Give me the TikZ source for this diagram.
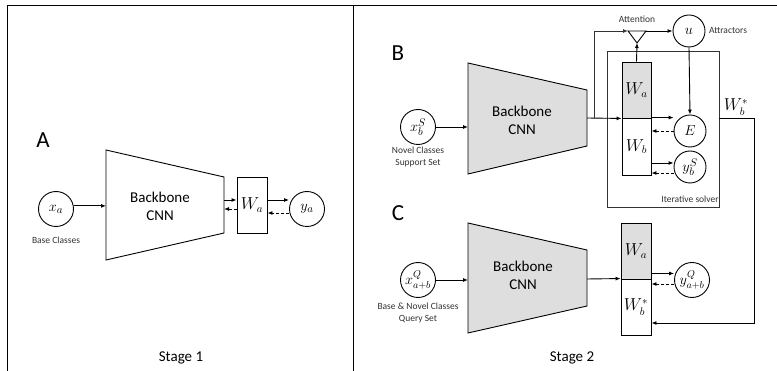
\documentclass[tikz,border=0pt]{standalone}
\usepackage{fontspec}
\setmainfont{Carlito}
\usetikzlibrary{arrows.meta,calc}
\begin{document}
\begin{tikzpicture}[x=1pt,y=-1pt,
 circ/.style={circle,draw,line width=0.9pt,minimum size=35pt,inner sep=0pt,font=\fontsize{15}{15}\selectfont},
 scirc/.style={circ,minimum size=32pt},
 wbox/.style={draw,line width=0.9pt,minimum width=30pt,minimum height=56pt,inner sep=0pt,font=\fontsize{16}{16}\selectfont},
 gbox/.style={wbox,fill=black!13},
 trap/.style={draw,line width=0.9pt},
 big/.style={font=\fontsize{23}{23}\selectfont},
 mid/.style={font=\fontsize{15}{18}\selectfont,align=center},
 lab/.style={font=\fontsize{9.5}{12.5}\selectfont,align=center,text=black!80},
 arr/.style={line width=0.9pt,-{Latex[length=5pt,width=4pt]}},
 darr/.style={arr,dash pattern=on 3pt off 2pt},
 thin/.style={line width=0.8pt,draw=black!80}]
\useasboundingbox (0,0) rectangle (777,371);
% frame
\draw[line width=1pt] (7,371) -- (7,6) -- (777,6);
\draw[line width=1pt] (353,6) -- (353,371);

% ---------------- Panel A
\node[big] (lA) at (43,140) {A};
\node[circ] (xa) at (56,209) {$x_a$};
\node[lab] (lxa) at (56,240) {Base Classes};
\coordinate (tA1) at (106,150);
\coordinate (tA2) at (224,177);
\coordinate (tA3) at (224,233);
\coordinate (tA4) at (106,260);
\draw[trap] (tA1) -- (tA2) -- (tA3) -- (tA4) -- cycle;
\node[mid] (cnnA) at (160,206) {Backbone\\CNN};
\node[wbox] (wA) at (252,205) {$W_a$};
\node[circ] (ya) at (307,209) {$y_a$};
\draw[arr] (xa.10) -- (xa.10 -| tA1);
\coordinate (tAr) at (224,205);
\coordinate (aS1) at ([yshift=5pt]tAr);
\coordinate (aD1) at ([yshift=-4pt]wA.west);
\draw[arr] (aS1) -- (aS1 -| wA.west);
\draw[darr] (aD1) -- (aD1 -| tAr);
\coordinate (aS2) at ([yshift=5pt]wA.east);
\coordinate (aD2) at ([yshift=-4pt]ya.west);
\draw[arr] (aS2) -- (aS2 -| ya.west);
\draw[darr] (aD2) -- (aD2 -| wA.east);
\node[mid] (s1) at (181,358) {Stage 1};

% ---------------- Panel B
\node[big] (lB) at (398,53) {B};
\node[circ] (xbs) at (418,127) {$x_b^S$};
\node[lab] (lxb) at (418,157) {Novel Classes\\Support Set};
\coordinate (tB1) at (468,63);
\coordinate (tB2) at (587,90);
\coordinate (tB3) at (587,146);
\coordinate (tB4) at (468,174);
\draw[trap,fill=black!13] (tB1) -- (tB2) -- (tB3) -- (tB4) -- cycle;
\node[mid] (cnnB) at (522,120) {Backbone\\CNN};
\node[draw,thin,minimum width=112pt,minimum height=156pt,inner sep=0pt] (solver) at (663,129) {};
\node[lab] (lsolver) at (690,199) {Iterative solver};
\node[gbox,minimum width=29pt] (wa) at (636.5,90) {$W_a$};
\node[wbox,minimum width=29pt,minimum height=57pt] (wb) at (636.5,146.5) {$W_b$};
\node[scirc] (u) at (689,31) {$u$};
\node[scirc] (E) at (690,131) {$E$};
\node[scirc] (ybs) at (690,167) {$y_b^S$};
\node[lab] (latt) at (637,19) {Attention};
\node[lab] (lattr) at (728,30) {Attractors};
\coordinate (t1) at (628,31);
\coordinate (t2) at (646,31);
\coordinate (t3) at (637,43);
\draw[line width=0.9pt] (t1) -- (t2) -- (t3) -- cycle;
\draw[arr] (xbs.east) -- (xbs.east -| tB1);
\coordinate (tBr) at (587,118);
\coordinate (brB) at (594,118);
\draw[arr] (tBr) -- (wa.south west);
\draw[arr,draw=black!80] (brB) |- (t1);
\draw[arr] (t2) -- (u.west);
\draw[arr] (wa.north) -- (t3);
\draw[arr] (u.south) -- (E.north);
\draw[arr] (wb.north east) -- (wb.north east -| E.west);
\draw[darr] (E.west) -- (E.west -| wb.east);
\coordinate (bS) at ([yshift=4pt]ybs.west);
\coordinate (bD) at ([yshift=-6pt]ybs.west);
\draw[arr] (bS -| wb.east) -- (bS);
\draw[darr] (bD) -- (bD -| wb.east);
\node[font=\fontsize{16}{16}\selectfont] (lwbs) at (736,107) {$W_b^*$};

% ---------------- Panel C
\node[big] (lC) at (398,213) {C};
\node[circ,font=\fontsize{14}{14}\selectfont] (xq) at (418,280) {$x_{a+b}^Q$};
\node[lab] (lxq) at (418,313) {Base \& Novel Classes\\Query Set};
\coordinate (tC1) at (468,223);
\coordinate (tC2) at (587,250);
\coordinate (tC3) at (587,306);
\coordinate (tC4) at (468,333);
\draw[trap,fill=black!13] (tC1) -- (tC2) -- (tC3) -- (tC4) -- cycle;
\node[mid] (cnnC) at (523,275) {Backbone\\CNN};
\node[gbox] (wac) at (636,251) {$W_a$};
\node[wbox] (wbc) at (636,307) {$W_b^*$};
\node[circ,font=\fontsize{14}{14}\selectfont] (yq) at (692,280) {$y_{a+b}^Q$};
\draw[arr] (xq.east) -- (xq.east -| tC1);
\coordinate (tCr) at (587,279);
\draw[arr] (tCr) -- (wbc.north west);
\coordinate (cS) at ([yshift=6pt]wac.south east);
\coordinate (cD) at ([yshift=-4pt]yq.west);
\draw[arr] (cS) -- (cS -| yq.west);
\draw[darr] (cD) -- (cD -| wac.east);
\coordinate (rc) at (754,323);
\draw[arr] (solver.east |- wa.south) -| (rc) -- (rc -| wbc.east);
\node[mid] (s2) at (572,358) {Stage 2};
\end{tikzpicture}
\end{document}
